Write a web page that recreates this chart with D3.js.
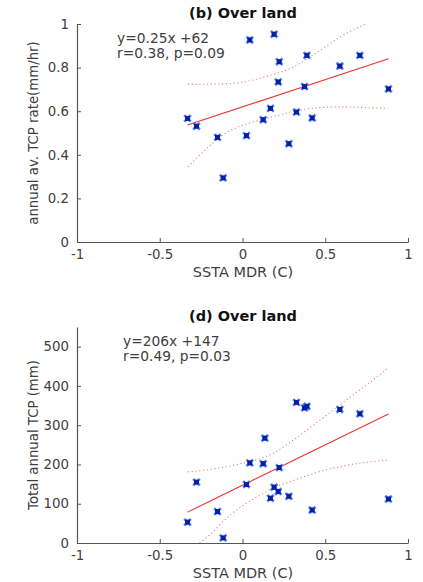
<!DOCTYPE html>
<html lang="en">
<head>
    <meta charset="UTF-8"/>
    <title>SSTA MDR vs TCP over land</title>
    <script src="https://d3js.org/d3.v7.min.js"></script>
    <style>
        html, body {
            margin: 0;
            padding: 0;
            background: white;
        }
        svg text {
            font-family: "DejaVu Sans", sans-serif;
            fill: #404040;
        }
        .title {
            font-weight: bold;
            fill: #111;
        }
    </style>
</head>
<body>
    <div id="chart"></div>
    <script>
        // panel (b): annual average TCP rate
        var sstaB = [-0.332, -0.278, -0.151, -0.117, 0.024, 0.044, 0.125, 0.169, 0.191, 0.222,
                     0.216, 0.280, 0.326, 0.375, 0.389, 0.421, 0.588, 0.709, 0.882];
        var rateB = [0.567, 0.531, 0.480, 0.294, 0.488, 0.927, 0.561, 0.613, 0.953, 0.827,
                     0.734, 0.451, 0.596, 0.713, 0.856, 0.569, 0.807, 0.856, 0.702];
        var fitB = [0.25, 0.62];   // slope, intercept
        var bandUpX_B = [-0.33, -0.2, -0.1, 0, 0.1, 0.2, 0.3, 0.4, 0.5, 0.6, 0.7, 0.75];
        var bandUp_B = [0.723, 0.724, 0.726, 0.733, 0.75, 0.772, 0.80, 0.845, 0.895, 0.945, 0.985, 1.0];
        var bandLoX_B = [-0.33, -0.2, -0.1, 0, 0.1, 0.2, 0.3, 0.4, 0.5, 0.6, 0.7, 0.8, 0.88];
        var bandLo_B = [0.345, 0.44, 0.50, 0.535, 0.558, 0.578, 0.598, 0.611, 0.618, 0.62, 0.618, 0.615, 0.613];
        var yTicksB = [0, 0.2, 0.4, 0.6, 0.8, 1];

        // panel (d): total annual TCP
        var sstaD = [-0.332, -0.278, -0.151, -0.117, 0.024, 0.044, 0.125, 0.135, 0.169, 0.191,
                     0.216, 0.222, 0.280, 0.326, 0.375, 0.389, 0.421, 0.588, 0.709, 0.882];
        var tcpD = [53, 155, 80, 13, 149, 204, 202, 267, 114, 142,
                    131, 192, 119, 358, 344, 348, 84, 340, 329, 112];
        var fitD = [206, 147];
        var bandUpX_D = [-0.33, -0.2, -0.1, 0, 0.1, 0.2, 0.3, 0.4, 0.5, 0.6, 0.7, 0.8, 0.88];
        var bandUp_D = [181, 187, 194, 203, 214, 232, 260, 291, 323, 355, 387, 419, 446];
        var bandLoX_D = [-0.26, -0.2, -0.1, 0, 0.1, 0.2, 0.3, 0.4, 0.5, 0.6, 0.7, 0.8, 0.88];
        var bandLo_D = [0, 20, 62, 95, 120, 143, 158, 173, 186, 195, 203, 208, 211];
        var yTicksD = [0, 100, 200, 300, 400, 500];

        var xTicks = [-1, -0.5, 0, 0.5, 1];

        var w = 423, h = 582;
        var svg = d3.select("#chart").append("svg")
            .attr("width", w)
            .attr("height", h);

        function panel(opt) {
            var x = d3.scaleLinear().domain([-1, 1]).range([77, 408]);
            var y = d3.scaleLinear().domain(opt.ydom).range([opt.bottom, opt.top]);
            var g = svg.append("g");

            // axes (ticks point inward like matlab)
            g.append("g")
                .attr("transform", "translate(0," + opt.bottom + ")")
                .call(d3.axisBottom(x).tickValues(xTicks).tickSizeInner(-4).tickSizeOuter(0)
                    .tickPadding(8).tickFormat(String))
                .call(styleAxis);
            g.append("g")
                .attr("transform", "translate(77,0)")
                .call(d3.axisLeft(y).tickValues(opt.yTicks).tickSizeInner(-4).tickSizeOuter(0)
                    .tickPadding(8).tickFormat(String))
                .call(styleAxis);

            g.append("text").attr("class", "title")
                .attr("x", 243).attr("y", opt.top - 6)
                .attr("text-anchor", "middle")
                .attr("font-size", 14.5)
                .text(opt.title);

            g.append("text")
                .attr("x", 243).attr("y", opt.bottom + 35)
                .attr("text-anchor", "middle")
                .attr("font-size", 14.5)
                .text("SSTA MDR (C)");

            g.append("text")
                .attr("transform", "translate(38," + ((opt.top + opt.bottom) / 2) + ") rotate(-90)")
                .attr("text-anchor", "middle")
                .attr("font-size", 13.3)
                .text(opt.ylabel);

            g.append("text")
                .attr("x", opt.annX).attr("y", opt.top + 19)
                .attr("font-size", 13.8)
                .text(opt.ann1);
            g.append("text")
                .attr("x", opt.annX).attr("y", opt.top + 34)
                .attr("font-size", 13.8)
                .text(opt.ann2);

            // fit line
            var x0 = d3.min(opt.xs), x1 = d3.max(opt.xs);
            g.append("line")
                .attr("x1", x(x0)).attr("y1", y(opt.fit[0] * x0 + opt.fit[1]))
                .attr("x2", x(x1)).attr("y2", y(opt.fit[0] * x1 + opt.fit[1]))
                .attr("stroke", "#ee3333")
                .attr("stroke-width", 1.1);

            // confidence bands
            var line = d3.line()
                .x(function(d) { return x(d[0]); })
                .y(function(d) { return y(d[1]); })
                .curve(d3.curveMonotoneX);
            [[opt.upX, opt.up], [opt.loX, opt.lo]].forEach(function(b) {
                g.append("path")
                    .datum(d3.zip(b[0], b[1]))
                    .attr("d", line)
                    .attr("fill", "none")
                    .attr("stroke", "#f08080")
                    .attr("stroke-width", 1.1)
                    .attr("stroke-dasharray", "1.2,2.6");
            });

            // markers
            var pts = d3.zip(opt.xs, opt.ys);
            g.selectAll(".mk").data(pts).enter()
                .append("path")
                .attr("class", "mk")
                .attr("transform", function(d) { return "translate(" + x(d[0]) + "," + y(d[1]) + ")"; })
                .attr("d", d3.symbol(d3.symbolX, 30)())
                .attr("fill", "none")
                .attr("stroke", "#4a7dff")
                .attr("stroke-width", 2.6);
            g.selectAll(".mc").data(pts).enter()
                .append("rect")
                .attr("class", "mc")
                .attr("x", function(d) { return x(d[0]) - 2.5; })
                .attr("y", function(d) { return y(d[1]) - 2.5; })
                .attr("width", 5).attr("height", 5)
                .attr("fill", "#0a1f9e");
        }

        function styleAxis(sel) {
            sel.select(".domain").attr("stroke", "#555").attr("stroke-width", 1.2);
            sel.selectAll(".tick line").attr("stroke", "#555");
            sel.selectAll(".tick text")
                .attr("font-size", 13.3)
                .attr("font-family", "DejaVu Sans, sans-serif")
                .attr("fill", "#404040");
        }

        panel({
            title: "(b) Over land", ylabel: "annual av. TCP rate(mm/hr)",
            top: 24, bottom: 242, ydom: [0, 1], yTicks: yTicksB,
            xs: sstaB, ys: rateB, fit: fitB,
            upX: bandUpX_B, up: bandUp_B, loX: bandLoX_B, lo: bandLo_B,
            annX: 117, ann1: "y=0.25x +62", ann2: "r=0.38, p=0.09"
        });

        panel({
            title: "(d) Over land", ylabel: "Total annual TCP (mm)",
            top: 327, bottom: 543, ydom: [0, 550], yTicks: yTicksD,
            xs: sstaD, ys: tcpD, fit: fitD,
            upX: bandUpX_D, up: bandUp_D, loX: bandLoX_D, lo: bandLo_D,
            annX: 123, ann1: "y=206x +147", ann2: "r=0.49, p=0.03"
        });
    </script>
</body>
</html>
